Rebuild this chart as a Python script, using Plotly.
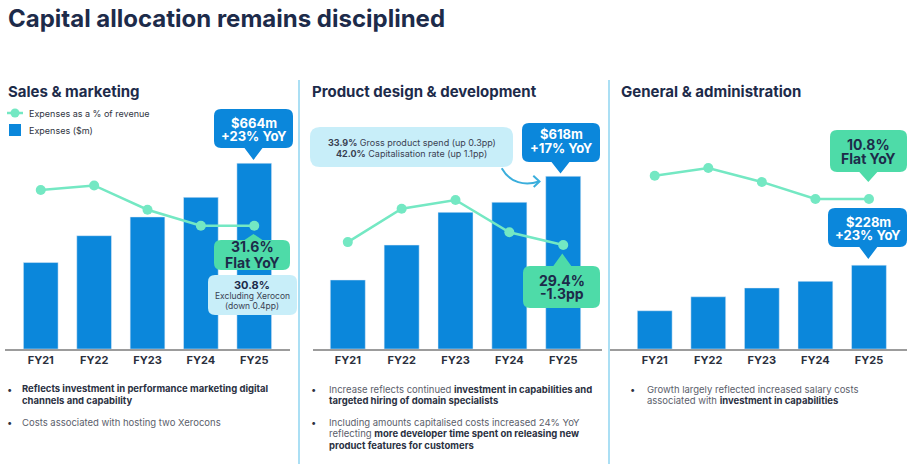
import plotly.graph_objects as go

years = ["FY21", "FY22", "FY23", "FY24", "FY25"]

# Sales & marketing
sm_spend = [309, 405, 472, 542, 664]          # $m
sm_pct = [36.3, 36.9, 33.7, 31.6, 31.6]       # % of revenue

# Product design & development
pd_spend = [247, 372, 489, 525, 618]
pd_pct = [29.7, 33.1, 34.0, 30.7, 29.4]

# General & administration
ga_spend = [104, 142, 166, 184, 228]
ga_pct = [12.3, 12.8, 11.9, 10.8, 10.8]

BAR = "#0b87db"
MINT = "#74e8c3"
GREEN = "#4edba8"
PALE = "#c8eef9"
NAVY = "#1d2b4a"
FONT = "Inter"

W, H = 912, 466


def px(x):
    return x / W


def py(y):
    return 1 - y / H


fig = go.Figure()

panels = [
    # spend, pct, x domain px, x range, y bar range, y pct range
    (sm_spend, sm_pct, (5, 290), [-0.67, 4.67], [0, 890], [15.38, 48.14]),
    (pd_spend, pd_pct, (313, 602), [-0.646, 4.72], [0, 891], [18.79, 44.2]),
    (ga_spend, ga_pct, (610, 907), [-0.835, 4.71], [0, 677], [1.12, 17.19]),
]

ydom = [py(349), py(100)]
for i, (spend, pct, xd, xr, yr, pr) in enumerate(panels):
    n = i + 1
    xa = "x" if n == 1 else "x%d" % n
    ya = "y" if n == 1 else "y%d" % n
    yl = "y%d" % (n + 3)
    fig.add_trace(go.Bar(x=years, y=spend, xaxis=xa, yaxis=ya, marker_color=BAR,
                         name="Expenses ($m)", showlegend=False))
    fig.add_trace(go.Scatter(x=years, y=pct, xaxis=xa, yaxis=yl, mode="lines+markers",
                             line=dict(color=MINT, width=2.5), marker=dict(color=MINT, size=10),
                             name="Expenses as a % of revenue", showlegend=False))
    xkey = "xaxis" if n == 1 else "xaxis%d" % n
    ykey = "yaxis" if n == 1 else "yaxis%d" % n
    fig.update_layout({
        xkey: dict(domain=[px(xd[0]), px(xd[1])], range=xr, anchor=ya, showline=True,
                   linecolor="#9c9c9c", linewidth=1.5, ticks="", showgrid=False,
                   tickfont=dict(family=FONT, size=11, color="#2a2f3d", weight="bold")),
        ykey: dict(domain=ydom, range=yr, anchor=xa, visible=False, showgrid=False),
        "yaxis%d" % (n + 3): dict(domain=ydom, range=pr, anchor=xa, overlaying=ya,
                                   visible=False, showgrid=False),
    })

shapes = []
annots = []


def P(x, y):
    return "%.5f,%.5f" % (px(x), py(y))


def callout(x0, y0, x1, y1, color, tx=None, ty=None, r=7, w=9):
    top = bot = ""
    if tx is not None and ty < y0:  # pointer on top edge
        top = "L%s L%s L%s " % (P(tx - w, y0), P(tx, ty), P(tx + w, y0))
    elif tx is not None:
        bot = "L%s L%s L%s " % (P(tx + w, y1), P(tx, ty), P(tx - w, y1))
    path = ("M%s " % P(x0 + r, y0) + top +
            "L%s Q%s %s " % (P(x1 - r, y0), P(x1, y0), P(x1, y0 + r)) +
            "L%s Q%s %s " % (P(x1, y1 - r), P(x1, y1), P(x1 - r, y1)) + bot +
            "L%s Q%s %s " % (P(x0 + r, y1), P(x0, y1), P(x0, y1 - r)) +
            "L%s Q%s %s Z" % (P(x0, y0 + r), P(x0, y0), P(x0 + r, y0)))
    shapes.append(dict(type="path", path=path, xref="paper", yref="paper",
                       fillcolor=color, line=dict(width=0), layer="above"))


def txt(x, y, s, size, color, bold=False, anchor="center"):
    annots.append(dict(x=px(x), y=py(y), xref="paper", yref="paper", text=s, showarrow=False,
                       xanchor=anchor, yanchor="middle",
                       font=dict(family=FONT, size=size, color=color,
                                 weight="bold" if bold else "normal")))


# title and panel headings
txt(6, 18, "Capital allocation remains disciplined", 24, NAVY, True, "left")
txt(6, 91, "Sales & marketing", 15, NAVY, True, "left")
txt(310, 91, "Product design & development", 15, NAVY, True, "left")
txt(619, 91, "General & administration", 15, NAVY, True, "left")

# legend (panel 1)
shapes.append(dict(type="line", xref="paper", yref="paper", x0=px(7), x1=px(23),
                   y0=py(113), y1=py(113), line=dict(color=MINT, width=2.5)))
shapes.append(dict(type="circle", xref="paper", yref="paper", x0=px(10.5), x1=px(19.5),
                   y0=py(117.5), y1=py(108.5), fillcolor=MINT, line=dict(width=0)))
shapes.append(dict(type="rect", xref="paper", yref="paper", x0=px(9), x1=px(21),
                   y0=py(136), y1=py(124), fillcolor=BAR, line=dict(width=0)))
txt(27, 113, "Expenses as a % of revenue", 9, "#2f3442", False, "left")
txt(27, 130, "Expenses ($m)", 9, "#2f3442", False, "left")

# separators
for sx in (299, 609):
    shapes.append(dict(type="line", xref="paper", yref="paper", x0=px(sx), x1=px(sx),
                       y0=py(80), y1=py(464), line=dict(color="#8fd4f1", width=1.5)))

# Sales & marketing callouts
callout(214, 109, 293, 148, BAR, 253.5, 160)
txt(253.5, 122.7, "$664m", 13, "white", True)
txt(253.5, 136, "+23% YoY", 13, "white", True)
callout(214, 240, 290, 270, GREEN, 253.5, 234)
txt(252, 246.7, "31.6%", 14, NAVY, True)
txt(252, 262.3, "Flat YoY", 14, NAVY, True)
callout(208, 275, 297, 315, PALE)
txt(252, 284.7, "30.8%", 11, NAVY, True)
txt(252, 296, "Excluding Xerocon", 8.5, "#3a4152")
txt(252, 305.5, "(down 0.4pp)", 8.5, "#3a4152")

# Product design callouts
callout(310, 127, 513, 167, PALE, r=10)
txt(411.5, 142.3, "<b>33.9%</b> Gross product spend (up 0.3pp)", 9, "#3a4152")
txt(411.5, 153.3, "<b>42.0%</b> Capitalisation rate (up 1.1pp)", 9, "#3a4152")
shapes.append(dict(type="path", xref="paper", yref="paper", layer="above",
                   path="M%s C%s %s %s" % (P(501.7, 168.3), P(510, 183), P(525, 186), P(539, 181.5)),
                   line=dict(color="#3aaedc", width=2)))
shapes.append(dict(type="path", xref="paper", yref="paper", layer="above",
                   path="M%s L%s L%s" % (P(533.3, 175.7), P(539.5, 181.5), P(533.7, 187)),
                   line=dict(color="#3aaedc", width=2)))
callout(522, 123, 600, 162, BAR, 560.5, 173.5)
txt(561, 134.3, "$618m", 13, "white", True)
txt(561, 147.7, "+17% YoY", 13, "white", True)
callout(523, 266, 600, 308, GREEN, 562.3, 253.5)
txt(561.5, 280, "29.4%", 14, NAVY, True)
txt(561.5, 293.3, "-1.3pp", 14, NAVY, True)

# General & administration callouts
callout(830, 130, 907, 172, GREEN, 868.3, 182)
txt(868.3, 144, "10.8%", 14, NAVY, True)
txt(868.3, 158.7, "Flat YoY", 14, NAVY, True)
callout(828, 208, 907, 247, BAR, 868.3, 259)
txt(868, 222.3, "$228m", 13, "white", True)
txt(868, 235, "+23% YoY", 13, "white", True)

# commentary bullets
GREY = "#5b606b"
DARK = "#2b3142"
bullets = [
    (9, 20, 389, ["<b style='color:%s'>Reflects investment in performance marketing digital</b>" % DARK,
                  "<b style='color:%s'>channels and capability</b>" % DARK]),
    (9, 20, 422.7, ["Costs associated with hosting two Xerocons"]),
    (313.3, 326.5, 389, ["Increase reflects continued <b style='color:%s'>investment in capabilities and</b>" % DARK,
                         "<b style='color:%s'>targeted hiring of domain specialists</b>" % DARK]),
    (313.3, 326.5, 422.7, ["Including amounts capitalised costs increased 24% YoY",
                           "reflecting <b style='color:%s'>more developer time spent on releasing new</b>" % DARK,
                           "<b style='color:%s'>product features for customers</b>" % DARK]),
    (632.5, 645, 389, ["Growth largely reflected increased salary costs",
                       "associated with <b style='color:%s'>investment in capabilities</b>" % DARK]),
]
for bx, tx, ty, lines in bullets:
    txt(bx, ty, "•", 9.5, DARK, False, "center")
    for k, line in enumerate(lines):
        txt(tx, ty + k * 11.5, line, 9.5, GREY, False, "left")

fig.update_layout(
    width=W, height=H, margin=dict(l=0, r=0, t=0, b=0),
    paper_bgcolor="white", plot_bgcolor="white",
    bargap=0.35, shapes=shapes, annotations=annots, showlegend=False,
)

fig.write_html("out.html", config={"displayModeBar": False},
               post_script="document.body.style.margin='0';")
